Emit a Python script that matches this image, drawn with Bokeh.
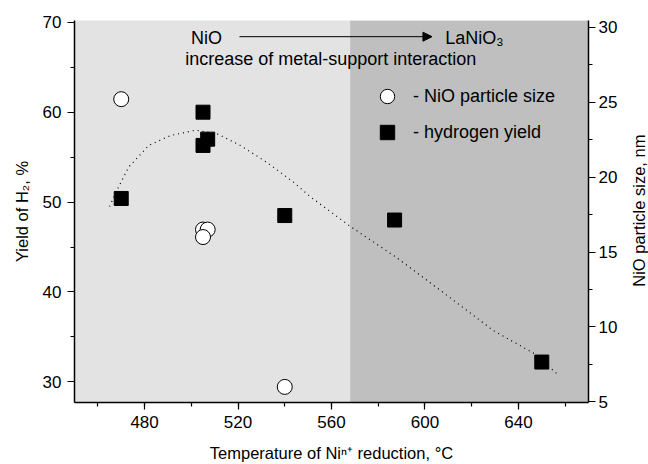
import math

from bokeh.plotting import figure
from bokeh.layouts import row
from bokeh.models import (Range1d, LinearAxis, SingleIntervalTicker, BoxAnnotation,
                          Label, Arrow, NormalHead, Legend, LegendItem)
from bokeh.embed import file_html
from bokeh.resources import INLINE

# NiO particle size (nm) against the Ni reduction temperature (°C)
size_temp = [470, 505, 507, 505, 540]
size_nm = [25.2, 16.5, 16.5, 16.0, 6.0]

# Hydrogen yield (%) against the Ni reduction temperature (°C)
yield_temp = [470, 505, 507, 505, 540, 587, 650]
yield_pct = [50.4, 60.0, 57.0, 56.3, 48.5, 48.0, 32.2]

# Trend line drawn through the hydrogen yield points
trend_temp = [465.0, 468.3, 473.2, 481.8, 491.1, 501.8, 511.0, 521.0, 532.4,
              543.8, 550.9, 568.0, 588.0, 608.0, 629.3, 646.4, 656.5]
trend_pct = [49.5, 51.4, 53.9, 56.3, 57.4, 58.0, 57.6, 56.3, 54.4,
             52.2, 50.6, 47.3, 43.8, 39.9, 35.7, 33.2, 30.9]

# Temperature where the LaNiO3-type (strong interaction) region starts
strong_zone_start = 568

FONT = "Liberation Sans"

p = figure(frame_width=514, frame_height=382,
           x_range=Range1d(450, 670), y_range=Range1d(27.7, 70.2),
           output_backend="svg", toolbar_location=None,
           min_border_left=74, min_border_right=40,
           min_border_top=20, min_border_bottom=62)
p.extra_y_ranges = {"size": Range1d(4.96, 30.45)}

p.background_fill_color = "#E3E3E3"
p.border_fill_color = "white"
p.outline_line_color = None
p.xgrid.visible = False
p.ygrid.visible = False

p.add_layout(BoxAnnotation(left=strong_zone_start, fill_color="#BFBFBF",
                           fill_alpha=1.0, line_color=None, level="underlay"))


def style_axis(ax, label):
    ax.axis_label = label
    ax.axis_line_color = "black"
    ax.axis_line_width = 1.5
    ax.major_tick_line_color = "black"
    ax.minor_tick_line_color = "black"
    ax.major_tick_line_width = 1.2
    ax.minor_tick_line_width = 1.2
    ax.major_tick_in = 0
    ax.major_tick_out = 7
    ax.minor_tick_in = 0
    ax.minor_tick_out = 4
    ax.major_label_text_font = FONT
    ax.major_label_text_font_size = "17px"
    ax.major_label_text_color = "black"
    ax.axis_label_text_font = FONT
    ax.axis_label_text_font_size = "16.5px"
    ax.axis_label_text_font_style = "normal"
    ax.axis_label_text_color = "black"


xax = p.xaxis[0]
xax.ticker = SingleIntervalTicker(interval=40, num_minor_ticks=2)
style_axis(xax, "Temperature of Ni\u207F\u207A reduction, \u00B0C")
xax.major_label_standoff = 6
xax.axis_label_standoff = 13

yax = p.yaxis[0]
yax.ticker = SingleIntervalTicker(interval=10, num_minor_ticks=2)
style_axis(yax, "Yield of H\u2082, %")
yax.major_label_standoff = 6
yax.axis_label_standoff = 9

rax = LinearAxis(y_range_name="size",
                 ticker=SingleIntervalTicker(interval=5, num_minor_ticks=2))
style_axis(rax, None)
rax.major_label_standoff = 3
p.add_layout(rax, "right")

# dotted trend of the hydrogen yield
p.line(trend_temp, trend_pct, line_color="black", line_width=1.2,
       line_dash="1 4")

r_size = p.scatter(size_temp, size_nm, y_range_name="size", marker="circle",
                   size=15, fill_color="white", line_color="black",
                   line_width=1)
r_yield = p.scatter(yield_temp, yield_pct, marker="square", size=14,
                    fill_color="black", line_color="black")

legend = Legend(items=[LegendItem(label="- NiO particle size", renderers=[r_size]),
                       LegendItem(label="- hydrogen yield", renderers=[r_yield])],
                location=(295, 252), glyph_width=36, glyph_height=36,
                spacing=-3, label_standoff=8, padding=0, margin=0,
                border_line_color=None, background_fill_alpha=0,
                label_text_font=FONT, label_text_font_size="18px",
                label_text_color="black")
p.add_layout(legend)

# NiO -> LaNiO3 annotation at the top
p.add_layout(Label(x=506.5, y=68.2, text="NiO", text_align="center",
                   text_baseline="middle", text_font=FONT,
                   text_font_size="18px", text_color="black"))
p.add_layout(Label(x=608.7, y=68.2, text="LaNiO\u2083", text_align="left",
                   text_baseline="middle", text_font=FONT,
                   text_font_size="18px", text_color="black"))
p.add_layout(Label(x=559.7, y=65.9, text="increase of metal-support interaction",
                   text_align="center", text_baseline="middle", text_font=FONT,
                   text_font_size="18px", text_color="black"))
p.add_layout(Arrow(x_start=520.6, y_start=68.4, x_end=603.0, y_end=68.4,
                   line_color="black", line_width=1,
                   end=NormalHead(size=9, fill_color="black", line_color="black")))

# narrow strip carrying the right-hand axis title, reading bottom to top
t = figure(width=20, height=464, x_range=Range1d(0, 20), y_range=Range1d(0, 464),
           x_axis_type=None, y_axis_type=None, output_backend="svg",
           toolbar_location=None, min_border=0)
t.outline_line_color = None
t.xgrid.visible = False
t.ygrid.visible = False
t.background_fill_color = "white"
t.border_fill_color = "white"
t.add_layout(Label(x=10, y=233, text="NiO particle size, nm", angle=math.pi / 2,
                   text_align="center", text_baseline="middle", text_font=FONT,
                   text_font_size="16.5px", text_color="black"))

layout = row(p, t, spacing=0)

open("out.html", "w").write(file_html(layout, INLINE))
